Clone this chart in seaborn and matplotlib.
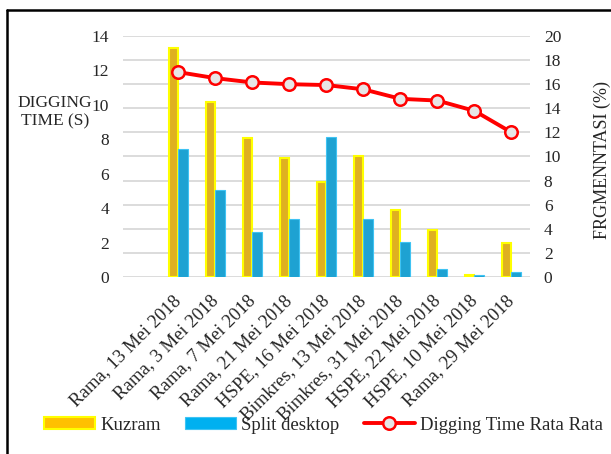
import numpy as np
import pandas as pd
import seaborn as sns
import matplotlib.pyplot as plt
from matplotlib.lines import Line2D

# data
lokasi = ["Rama, 13 Mei 2018", "Rama, 3 Mei 2018", "Rama, 7 Mei 2018", "Rama, 21 Mei 2018",
          "HSPE, 16 Mei 2018", "Bimkres, 13 Mei 2018", "Bimkres, 31 Mei 2018",
          "HSPE, 22 Mei 2018", "HSPE, 10 Mei 2018", "Rama, 29 Mei 2018"]
kuzram = [19.0, 14.55, 11.5, 9.85, 7.9, 10.05, 5.6, 3.9, 0.2, 2.8]
split_desktop = [10.65, 7.2, 3.75, 4.8, 11.6, 4.8, 2.9, 0.65, 0.15, 0.4]
digging_time = [11.9, 11.55, 11.3, 11.2, 11.15, 10.9, 10.35, 10.25, 9.65, 8.4]

df = pd.DataFrame({
    "lokasi": lokasi * 2,
    "nilai": kuzram + split_desktop,
    "metode": ["Kuzram"] * len(lokasi) + ["Split desktop"] * len(lokasi),
})

sns.set_style("white")
plt.rcParams["font.family"] = ["Liberation Serif", "DejaVu Serif"]

fig, ax = plt.subplots(figsize=(6.11, 4.54), dpi=100)
fig.subplots_adjust(left=0.2013, right=0.8674, bottom=0.3899, top=0.9207)
ax2 = ax.twinx()

# bars -> fragmentasi (right side axis)
urutan = [""] + lokasi
sns.barplot(data=df, x="lokasi", y="nilai", hue="metode", order=urutan,
            palette={"Kuzram": "#FFC000", "Split desktop": "#00B0F0"},
            width=0.5, ax=ax, legend=False)
for bar in ax.containers[0]:
    bar.set_edgecolor("#FFFF00")
    bar.set_linewidth(1.5)
for bar in ax.containers[1]:
    bar.set_edgecolor("#3FC3F3")
    bar.set_linewidth(0.8)

ax.set_ylim(0, 20)
ax.set_yticks(np.arange(0, 21, 2))
ax.set_xlim(-0.5, len(urutan) - 0.5)
ax.set_xlabel("")
ax.set_ylabel("")
ax.grid(axis="y", color="#D9D9D9", linewidth=1.3)
ax.set_axisbelow(True)
for s in ax.spines.values():
    s.set_visible(False)
ax.tick_params(axis="x", length=0, pad=15)
ax.set_xticks(range(len(urutan)))
ax.set_xticklabels(urutan, rotation=45, ha="right", va="center",
                   rotation_mode="anchor", fontsize=13.5)

# line -> digging time (left side axis)
ax2.plot(np.arange(1, len(lokasi) + 1), digging_time, color="#FF0000", linewidth=2.8,
         marker="o", markersize=9, markerfacecolor="#E7E6E6",
         markeredgecolor="#FF0000", markeredgewidth=1.8)
ax2.set_ylim(0, 14)
ax2.set_yticks(np.arange(0, 15, 2))
for s in ax2.spines.values():
    s.set_visible(False)

# swap sides: bars axis on the right, line axis on the left
ax.yaxis.tick_right()
ax.yaxis.set_label_position("right")
ax2.yaxis.tick_left()
ax2.yaxis.set_label_position("left")
ax.tick_params(axis="y", length=0, labelsize=12.5, pad=10)
ax2.tick_params(axis="y", length=0, labelsize=12.5, pad=10)

ax.set_ylabel("FRGMENNTASI (%)", fontsize=13, rotation=90, ha="center", va="center")
ax.yaxis.set_label_coords(1.177, 0.485)
ax2.set_ylabel("DIGGING\nTIME (S)", fontsize=12.5, rotation=0, linespacing=1.2,
               ha="center", va="center")
ax2.yaxis.set_label_coords(-0.167, 0.685)

# legend
handles = [
    plt.Rectangle((0, 0), 1, 1, facecolor="#FFC000", edgecolor="#FFFF00", linewidth=1.5),
    plt.Rectangle((0, 0), 1, 1, facecolor="#00B0F0", edgecolor="#3FC3F3", linewidth=0.8),
    Line2D([], [], color="#FF0000", linewidth=2.8, marker="o", markersize=9,
           markerfacecolor="#E7E6E6", markeredgecolor="#FF0000", markeredgewidth=1.8),
]
fig.legend(handles, ["Kuzram", "Split desktop", "Digging Time Rata Rata"],
           loc="center left", bbox_to_anchor=(27 / 611, 1 - 425 / 454), ncol=3,
           frameon=False, fontsize=13.5, handlelength=2.7, handleheight=0.55,
           columnspacing=1.3, handletextpad=0.3)

# frame
fig.add_artist(Line2D([7 / 611, 7 / 611], [0, 1 - 10 / 454], color="black", linewidth=1.8))
fig.add_artist(Line2D([7 / 611, 1], [1 - 10 / 454, 1 - 10 / 454], color="black", linewidth=1.8))

plt.savefig("out.png", dpi=100)
